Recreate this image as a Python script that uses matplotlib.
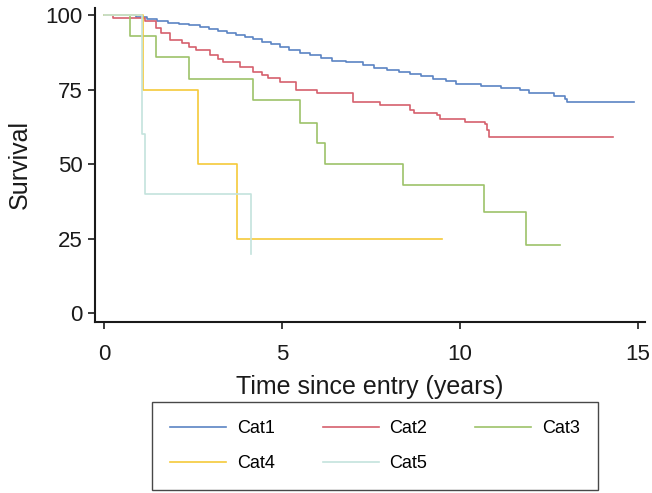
import matplotlib
matplotlib.use('Agg')
import matplotlib.pyplot as plt

# Kaplan-Meier style survival curves
cat1_t = [0, 0.9, 1.2, 1.5, 1.8, 2.1, 2.4, 2.7, 2.95, 3.2, 3.45, 3.7, 3.95, 4.2, 4.45,
          4.7, 4.95, 5.2, 5.5, 5.8, 6.1, 6.4, 6.8, 7.28, 7.6, 7.95, 8.3, 8.6, 8.9, 9.25,
          9.6, 9.9, 10.6, 11.15, 11.7, 11.95, 12.65, 12.95, 13.02, 14.9]
cat1_s = [100, 99.6, 98.8, 98.2, 97.6, 97.1, 96.6, 96.0, 95.4, 94.8, 94.2, 93.4, 92.7, 91.9, 91.1,
          90.3, 89.4, 88.4, 87.5, 86.6, 85.7, 84.8, 84.2, 83.4, 82.4, 81.5, 80.9, 80.3, 79.5, 78.5,
          77.9, 77.0, 76.4, 75.6, 74.9, 73.9, 72.8, 71.9, 70.9, 70.9]

cat2_t = [0, 0.25, 1.15, 1.45, 1.6, 1.85, 2.2, 2.4, 2.6, 2.98, 3.2, 3.35, 3.82, 4.2, 4.45,
          4.6, 4.94, 5.4, 5.98, 7.0, 7.75, 8.6, 8.7, 9.35, 9.45, 10.14, 10.7, 10.76, 10.82, 14.3]
cat2_s = [100, 99.2, 98.0, 95.8, 94.2, 91.8, 90.6, 89.4, 88.3, 86.7, 85.4, 84.4, 82.8, 81.1, 79.9,
          78.9, 77.6, 74.8, 73.9, 70.9, 69.8, 68.1, 67.2, 66.4, 65.3, 64.2, 63.5, 61.4, 59.2, 59.2]

cat3_t = [0, 0.73, 1.46, 2.4, 4.2, 5.5, 6.0, 6.2, 8.4, 10.67, 11.85, 12.8]
cat3_s = [100, 93, 86, 78.5, 71.5, 64, 57, 50, 43, 34, 23, 23]

cat4_t = [0, 1.1, 2.64, 3.73, 9.5]
cat4_s = [100, 75, 50, 25, 25]

cat5_t = [0, 1.08, 1.15, 4.13]
cat5_s = [100, 60, 40, 20]

labels = ['Cat1', 'Cat2', 'Cat3', 'Cat4', 'Cat5']
colors = ['#5b84c4', '#d6606d', '#9dc26a', '#f5c93a', '#c4e3dd']

plt.rcParams['font.family'] = ['Liberation Sans', 'DejaVu Sans']

fig = plt.figure(figsize=(6.52, 4.93), dpi=100)
ax = fig.add_axes([0.1457, 0.3469, 0.8436, 0.637])

series = [(cat1_t, cat1_s), (cat2_t, cat2_s), (cat3_t, cat3_s), (cat4_t, cat4_s), (cat5_t, cat5_s)]
handles = []
for (t, s), lab, col in zip(series, labels, colors):
    h, = ax.step(t, s, where='post', color=col, linewidth=1.2, label=lab)
    handles.append(h)

ax.set_xlim(-0.25, 15.2)
ax.set_ylim(-3, 102.5)
ax.set_xticks([0, 5, 10, 15])
ax.set_yticks([0, 25, 50, 75, 100])

for side in ['top', 'right']:
    ax.spines[side].set_visible(False)
for side in ['left', 'bottom']:
    ax.spines[side].set_linewidth(1.5)
    ax.spines[side].set_color('#1a1a1a')

ax.tick_params(axis='both', direction='out', length=5, width=1.2, color='#1a1a1a',
               labelsize=16, labelcolor='#1a1a1a')
ax.tick_params(axis='x', pad=11)
ax.tick_params(axis='y', pad=4)

ax.set_xlabel('Time since entry (years)', fontsize=18, color='#1a1a1a', labelpad=7)
ax.set_ylabel('Survival', fontsize=18, color='#1a1a1a', labelpad=10)

# legend fills columns first, so reorder to read row by row
order = [0, 3, 1, 4, 2]
leg = fig.legend([handles[i] for i in order], [labels[i] for i in order],
                 loc='lower left', bbox_to_anchor=(0.233, 0.006, 0.684, 0.172),
                 mode='expand', ncol=3, fontsize=13, frameon=True, fancybox=False,
                 edgecolor='#1a1a1a', handlelength=3.1, labelspacing=1.0,
                 borderpad=1.0, borderaxespad=0, handletextpad=0.6)
leg.get_frame().set_linewidth(1.0)

fig.savefig('out.png', dpi=100)
